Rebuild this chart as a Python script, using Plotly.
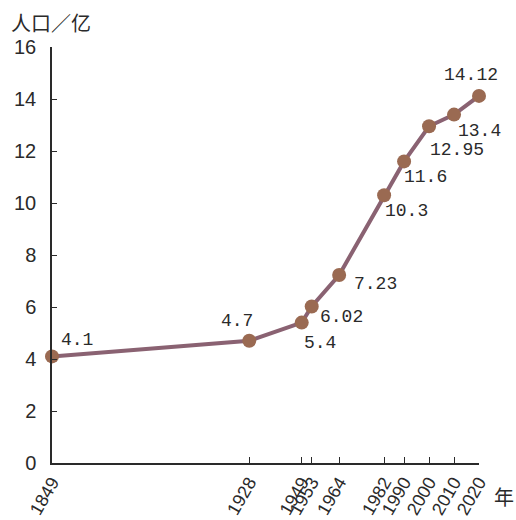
import plotly.graph_objects as go

# Population of China (hundred million) by year
years = [1849, 1928, 1949, 1953, 1964, 1982, 1990, 2000, 2010, 2020]
population = [4.1, 4.7, 5.4, 6.02, 7.23, 10.3, 11.6, 12.95, 13.4, 14.12]
y_ticks = [0, 2, 4, 6, 8, 10, 12, 14, 16]

# pixel offsets of each value label from its point
label_dx = [25, -12, 18, 30, 36, 22, 21, 28, 25, -8]
label_dy = [16, 20, -20, -11, -9, -16, -16, -24, -16, 21]

line_color = "#8a6272"
marker_color = "#9a6a52"
axis_color = "#2a2a2a"
text_color = "#2a2a2a"

fig = go.Figure()
fig.add_trace(go.Scatter(
    x=years, y=population, mode="lines+markers",
    line=dict(color=line_color, width=4),
    marker=dict(color=marker_color, size=14),
    cliponaxis=False, hoverinfo="skip",
))

for x, y, dx, dy in zip(years, population, label_dx, label_dy):
    fig.add_annotation(
        x=x, y=y, text=str(y), showarrow=False,
        xshift=dx, yshift=dy,
        font=dict(family="Liberation Mono", size=18, color=text_color),
    )

fig.add_annotation(
    xref="paper", yref="paper", x=-0.1, y=1.02, xanchor="left", yanchor="bottom",
    text="人口／亿", showarrow=False,
    font=dict(family="Noto Sans CJK SC", size=20, color=text_color),
)
fig.add_annotation(
    xref="paper", yref="paper", x=1.03, y=-0.08, xanchor="left", yanchor="middle",
    text="年", showarrow=False,
    font=dict(family="Noto Sans CJK SC", size=20, color=text_color),
)

fig.update_layout(
    width=516, height=520,
    margin=dict(l=52, r=37, t=47, b=57),
    plot_bgcolor="white", paper_bgcolor="white",
    showlegend=False,
)
fig.update_xaxes(
    range=[years[0], years[-1]], tickvals=years, ticktext=[str(v) for v in years],
    tickangle=-60, ticks="inside", ticklen=6, tickcolor=axis_color,
    showline=True, linecolor=axis_color, linewidth=1.5,
    showgrid=False, zeroline=False, automargin=False,
    tickfont=dict(family="Liberation Sans", size=18, color=text_color),
)
fig.update_yaxes(
    range=[0, 16], tickvals=y_ticks, ticks="inside", ticklen=5, tickcolor=axis_color,
    showline=True, linecolor=axis_color, linewidth=1.5,
    showgrid=False, zeroline=False, ticklabelstandoff=10, automargin=False,
    tickfont=dict(family="Liberation Sans", size=20, color=text_color),
)

fig.write_html("out.html")
